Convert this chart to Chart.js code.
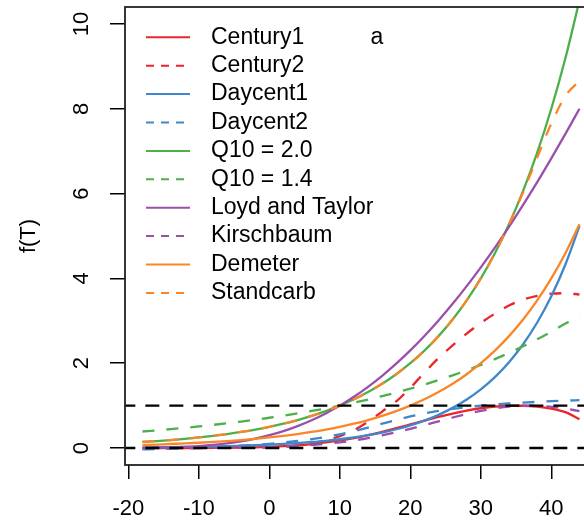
<!DOCTYPE html>
<html lang="en">
<head>
  <meta charset="UTF-8" />
  <title>f(T)</title>
  <script src="https://cdn.jsdelivr.net/npm/chart.js"></script>
  <style>
    body { margin: 0; background: #fff; overflow: hidden; }
  </style>
</head>
<body>
  <canvas id="chart" width="584" height="525"></canvas>

  <script>
    // temperature grid (deg C)
    const temps = [-18, -16, -14, -12, -10, -8, -6, -4, -2, 0, 2, 4, 6, 8, 10, 12, 14, 16,
                   18, 20, 22, 24, 26, 28, 30, 32, 34, 36, 38, 40, 42, 44];

    // values
    const century1 = [0.000, 0.000, 0.001, 0.001, 0.002, 0.004, 0.006, 0.010, 0.017, 0.028, 0.043, 0.064,
                      0.093, 0.131, 0.178, 0.236, 0.305, 0.382, 0.467, 0.556, 0.646, 0.733, 0.813, 0.883,
                      0.938, 0.977, 0.997, 0.997, 0.975, 0.928, 0.845, 0.681];
    const century2 = [0.000, 0.000, 0.000, 0.000, 0.001, 0.002, 0.003, 0.005, 0.009, 0.015, 0.03, 0.06,
                      0.11, 0.18, 0.28, 0.42, 0.62, 0.86, 1.10, 1.42, 1.78, 2.12, 2.42, 2.70,
                      2.95, 3.17, 3.36, 3.50, 3.59, 3.64, 3.65, 3.62];
    const daycent1 = [0.015, 0.018, 0.021, 0.026, 0.031, 0.038, 0.045, 0.055, 0.066, 0.080, 0.097, 0.117,
                      0.142, 0.171, 0.207, 0.250, 0.303, 0.366, 0.443, 0.535, 0.647, 0.783, 0.947, 1.145,
                      1.384, 1.674, 2.024, 2.448, 2.960, 3.579, 4.328, 5.233];
    const daycent2 = [-0.032, -0.024, -0.015, -0.005, 0.007, 0.021, 0.036, 0.054, 0.075, 0.100, 0.130, 0.166,
                      0.209, 0.262, 0.325, 0.400, 0.484, 0.574, 0.662, 0.744, 0.815, 0.875, 0.925, 0.966,
                      1.000, 1.028, 1.052, 1.072, 1.089, 1.104, 1.117, 1.128];
    const q10_20 = [0.144, 0.165, 0.189, 0.218, 0.250, 0.287, 0.330, 0.379, 0.435, 0.500, 0.574, 0.660,
                    0.758, 0.871, 1.000, 1.149, 1.320, 1.516, 1.741, 2.000, 2.297, 2.639, 3.031, 3.482,
                    4.000, 4.595, 5.278, 6.063, 6.964, 8.000, 9.190, 10.56];
    const q10_14 = [0.390, 0.417, 0.446, 0.477, 0.510, 0.546, 0.584, 0.624, 0.668, 0.714, 0.764, 0.817,
                    0.874, 0.935, 1.000, 1.070, 1.144, 1.224, 1.309, 1.400, 1.497, 1.602, 1.713, 1.833,
                    1.960, 2.097, 2.243, 2.399, 2.566, 2.744, 2.935, 3.100];
    const lloydTaylor = [0.004, 0.009, 0.016, 0.028, 0.047, 0.074, 0.111, 0.160, 0.223, 0.302, 0.399, 0.517,
                         0.655, 0.816, 1.000, 1.209, 1.444, 1.704, 1.990, 2.303, 2.642, 3.008, 3.400, 3.817,
                         4.260, 4.727, 5.217, 5.733, 6.269, 6.829, 7.408, 8.000];
    const kirschbaum = [0.000, 0.001, 0.001, 0.001, 0.002, 0.004, 0.006, 0.010, 0.015, 0.023, 0.035, 0.050,
                        0.071, 0.099, 0.135, 0.180, 0.235, 0.299, 0.373, 0.454, 0.541, 0.631, 0.720, 0.803,
                        0.876, 0.936, 0.977, 0.998, 0.997, 0.973, 0.931, 0.870];
    const demeter = [0.072, 0.082, 0.095, 0.109, 0.125, 0.144, 0.165, 0.189, 0.218, 0.250, 0.287, 0.330,
                     0.379, 0.435, 0.500, 0.574, 0.660, 0.758, 0.871, 1.000, 1.149, 1.320, 1.516, 1.741,
                     2.000, 2.297, 2.639, 3.031, 3.482, 4.000, 4.595, 5.278];
    const standcarb = [0.144, 0.165, 0.189, 0.218, 0.250, 0.287, 0.330, 0.379, 0.435, 0.500, 0.574, 0.660,
                       0.758, 0.871, 1.000, 1.149, 1.320, 1.516, 1.741, 2.000, 2.297, 2.639, 3.031, 3.482,
                       4.000, 4.595, 5.278, 6.030, 6.850, 7.650, 8.300, 8.660];

    const seriesNames = ["Century1", "Century2", "Daycent1", "Daycent2", "Q10 = 2.0", "Q10 = 1.4",
                         "Loyd and Taylor", "Kirschbaum", "Demeter", "Standcarb"];
    const seriesValues = [century1, century2, daycent1, daycent2, q10_20, q10_14,
                          lloydTaylor, kirschbaum, demeter, standcarb];
    const refLevels = [0, 1];
    const xTicks = [-20, -10, 0, 10, 20, 30, 40];
    const yTicks = [0, 2, 4, 6, 8, 10];

    const colors = ["#E8262D", "#3F87C8", "#4DAF4A", "#9A50AA", "#FA8627"];
    const FONT = "'Liberation Sans', Arial, sans-serif";

    // x range of the plot box (the right edge is cut off by the picture)
    const xMin = -20.48, xMax = 44.64;
    const boxRight = 597;

    const datasets = seriesNames.map((name, i) => ({
      label: name,
      data: temps.map((t, k) => ({ x: t, y: seriesValues[i][k] })),
      borderColor: colors[Math.floor(i / 2)],
      borderWidth: 2.3,
      borderDash: i % 2 ? [12, 12] : [],
      pointRadius: 0,
      cubicInterpolationMode: 'monotone',
      fill: false,
      order: 10 - i
    }));

    refLevels.forEach(v => {
      datasets.push({
        label: 'ref' + v,
        isRef: true,
        data: [{ x: -21, y: v }, { x: 47, y: v }],
        borderColor: '#000',
        borderWidth: 2.4,
        borderDash: [14, 10],
        pointRadius: 0,
        fill: false,
        order: 0
      });
    });

    // box around the plot region
    const boxPlugin = {
      id: 'box',
      afterDraw(chart) {
        const { ctx, chartArea } = chart;
        ctx.save();
        ctx.strokeStyle = '#222';
        ctx.lineWidth = 1.8;
        ctx.strokeRect(chartArea.left, chartArea.top, boxRight - chartArea.left, chartArea.bottom - chartArea.top);
        ctx.restore();
      }
    };

    // legend in the top-left corner, no frame
    const legendPlugin = {
      id: 'innerLegend',
      afterDraw(chart) {
        const ctx = chart.ctx;
        ctx.save();
        ctx.font = "23px " + FONT;
        ctx.textBaseline = 'middle';
        ctx.textAlign = 'left';
        chart.data.datasets.filter(d => !d.isRef).forEach((d, i) => {
          const y = 37.3 + i * 28.4;
          ctx.strokeStyle = d.borderColor;
          ctx.lineWidth = 2;
          ctx.setLineDash(d.borderDash.length ? [8, 7] : []);
          ctx.beginPath();
          ctx.moveTo(146, y);
          ctx.lineTo(190, y);
          ctx.stroke();
          ctx.fillStyle = '#000';
          ctx.fillText(d.label, 211, y);
        });
        ctx.textAlign = 'center';
        ctx.fillText('a', 377, 37.3);
        ctx.restore();
      }
    };

    new Chart(document.getElementById('chart'), {
      type: 'line',
      data: { datasets: datasets },
      plugins: [boxPlugin, legendPlugin],
      options: {
        responsive: false,
        animation: false,
        layout: { padding: { top: 7, right: 0, bottom: 0, left: 0 } },
        plugins: { legend: { display: false }, tooltip: { enabled: false } },
        scales: {
          x: {
            type: 'linear',
            min: xMin,
            max: xMax,
            afterFit: s => { s.height = 60; s.paddingLeft = 0; s.paddingRight = 0; },
            afterBuildTicks: s => { s.ticks = xTicks.map(v => ({ value: v })); },
            ticks: { font: { size: 22, family: FONT }, color: '#000', padding: 17, maxRotation: 0, autoSkip: false },
            grid: { drawOnChartArea: false, drawTicks: true, tickLength: 14, color: '#000', lineWidth: 1.5 },
            border: { display: false }
          },
          y: {
            type: 'linear',
            min: -0.4,
            max: 10.4,
            afterFit: s => { s.width = 125; s.paddingTop = 0; s.paddingBottom = 0; },
            afterBuildTicks: s => { s.ticks = yTicks.map(v => ({ value: v })); },
            ticks: { font: { size: 22, family: FONT }, color: '#000', padding: 16,
                     minRotation: 90, maxRotation: 90, crossAlign: 'center', autoSkip: false },
            grid: { drawOnChartArea: false, drawTicks: true, tickLength: 15, color: '#000', lineWidth: 1.5 },
            border: { display: false },
            title: { display: true, text: 'f(T)', color: '#000', font: { size: 22, family: FONT },
                     padding: { top: 16, bottom: 0 } }
          }
        }
      }
    });
  </script>
</body>
</html>
